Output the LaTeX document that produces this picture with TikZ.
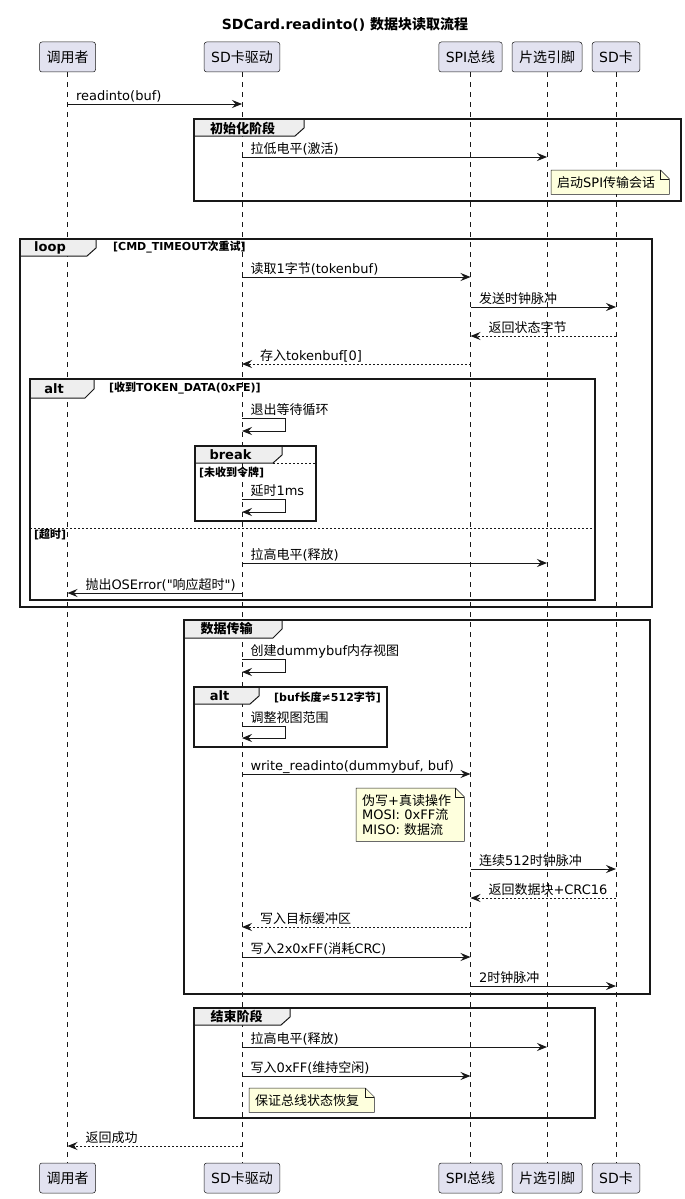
\documentclass[tikz,border=0pt]{standalone}
\usepackage{fontspec}
\setmainfont{DejaVu Sans}[Ligatures=TeXOff]
\newfontfamily\cjkfont{Noto Sans CJK SC}
\usetikzlibrary{arrows.meta}

\XeTeXinterchartokenstate=1
\chardef\cjkclass=7
\newcount\cjkcode
\cjkcode="4E00
\loop
  \XeTeXcharclass\cjkcode=\cjkclass
  \ifnum\cjkcode<"9FFF \advance\cjkcode by 1
\repeat
\XeTeXinterchartoks 0 \cjkclass = {\begingroup\cjkfont}
\XeTeXinterchartoks 4095 \cjkclass = {\begingroup\cjkfont}
\XeTeXinterchartoks \cjkclass 0 = {\endgroup}
\XeTeXinterchartoks \cjkclass 4095 = {\endgroup}

\definecolor{ink}{HTML}{181818}
\definecolor{partfill}{HTML}{E2E2F0}
\definecolor{notefill}{HTML}{FEFFDD}
\definecolor{tabfill}{HTML}{EEEEEE}

\tikzstyle{part} = [rectangle, draw=ink, fill=partfill, rounded corners=2.5pt,
    line width=0.5pt, minimum height=30pt, inner xsep=7pt, font=\fontsize{14}{16}\selectfont]
\tikzstyle{life} = [draw=ink, line width=0.5pt, dash pattern=on 5pt off 5pt]
\tikzstyle{line} = [draw=ink, line width=1pt, -{Stealth[length=10pt, width=8pt, inset=3.5pt]}]
\tikzstyle{back} = [line, dash pattern=on 2pt off 2pt]
\tikzstyle{rlbl} = [anchor=base west, inner sep=0pt, xshift=8pt, yshift=4pt, font=\fontsize{13}{15}\selectfont]
\tikzstyle{llbl} = [anchor=base west, inner sep=0pt, xshift=17.5pt, yshift=4pt, font=\fontsize{13}{15}\selectfont]
\tikzstyle{frame} = [draw=ink, line width=1.5pt]
\tikzstyle{tab} = [draw=ink, fill=tabfill, line width=1pt]
\tikzstyle{ghead} = [inner sep=0pt, font=\bfseries\fontsize{13}{15}\selectfont]
\tikzstyle{gcond} = [anchor=west, inner sep=0pt, font=\bfseries\fontsize{11}{13}\selectfont]
\tikzstyle{sep} = [draw=ink, line width=1pt, dash pattern=on 2pt off 2pt]
\tikzstyle{note} = [anchor=north west, fill=notefill, inner xsep=6pt, inner ysep=6pt,
    align=left, font=\fontsize{13}{14.5}\selectfont]
\tikzstyle{fold} = [draw=ink, line width=0.5pt]

\begin{document}
\begin{tikzpicture}[x=1pt, y=-1pt]
  \useasboundingbox (0,0) rectangle (685,1199);
  \node [font=\bfseries\fontsize{14}{16}\selectfont] (title) at (345,24) {SDCard.readinto() 数据块读取流程};

  \node [part] (cl) at (67.5,57) {调用者};
  \node [part] (drv) at (242,57) {SD卡驱动};
  \node [part] (spi) at (470.5,57) {SPI总线};
  \node [part] (cs) at (547,57) {片选引脚};
  \node [part] (card) at (616,57) {SD卡};
  \node [part] (cl2) at (67.5,1178) {调用者};
  \node [part] (drv2) at (242,1178) {SD卡驱动};
  \node [part] (spi2) at (470.5,1178) {SPI总线};
  \node [part] (cs2) at (547,1178) {片选引脚};
  \node [part] (card2) at (616,1178) {SD卡};
  \path [life] (cl) -- (cl2);
  \path [life] (drv) -- (drv2);
  \path [life] (spi) -- (spi2);
  \path [life] (cs) -- (cs2);
  \path [life] (card) -- (card2);

  \filldraw [tab] (194,119) -- (304,119) -- (304,128) -- (295,136) -- (194,136) -- cycle;
  \draw [frame] (194,119) rectangle (681,201);
  \node [ghead] (init) at (242.5,128) {初始化阶段};

  \filldraw [tab] (20,239) -- (96,239) -- (96,248) -- (87,256) -- (20,256) -- cycle;
  \draw [frame] (20,239) rectangle (652,607);
  \node [ghead] (loop) at (50,247.5) {loop};
  \node [gcond] (loopc) at (113,247.5) {[CMD\_TIMEOUT次重试]};

  \filldraw [tab] (30,379) -- (94,379) -- (94,389) -- (85,398) -- (30,398) -- cycle;
  \draw [frame] (30,379) rectangle (595,600);
  \node [ghead] (alt) at (54,388.5) {alt};
  \node [gcond] (altc) at (109,388.5) {[收到TOKEN\_DATA(0xFE)]};
  \path [sep] (30,528) -- (595,528);
  \node [gcond] (elsec) at (34,535) {[超时]};

  \filldraw [tab] (195,446) -- (282,446) -- (282,455) -- (273,463) -- (195,463) -- cycle;
  \draw [frame] (195,446) rectangle (316,521);
  \path [sep] (273,463) -- (316,463);
  \node [ghead] (brk) at (230.5,454.5) {break};
  \node [gcond] (brkc) at (199,472) {[未收到令牌]};

  \filldraw [tab] (184,620) -- (282,620) -- (282,629) -- (273,638) -- (184,638) -- cycle;
  \draw [frame] (184,620) rectangle (650,994);
  \node [ghead] (data) at (226.5,629) {数据传输};

  \filldraw [tab] (194,687) -- (259,687) -- (259,696) -- (250,704) -- (194,704) -- cycle;
  \draw [frame] (194,687) rectangle (387,747);
  \node [ghead] (alt2) at (219.5,696) {alt};
  \node [gcond] (alt2c) at (274,697) {[buf长度≠512字节]};

  \filldraw [tab] (194,1008) -- (290,1008) -- (290,1017) -- (281,1025) -- (194,1025) -- cycle;
  \draw [frame] (194,1008) rectangle (595,1118);
  \node [ghead] (fin) at (236.5,1016.5) {结束阶段};

  \path [line] (cl |- 0,104) -- (drv |- 0,104) node [pos=0, rlbl] (m1) {readinto(buf)};
  \path [line] (drv |- 0,157) -- (cs |- 0,157) node [pos=0, rlbl] (m2) {拉低电平(激活)};
  \path [line] (drv |- 0,277) -- (spi |- 0,277) node [pos=0, rlbl] (m3) {读取1字节(tokenbuf)};
  \path [line] (spi |- 0,307) -- (card |- 0,307) node [pos=0, rlbl] (m4) {发送时钟脉冲};
  \path [back] (card |- 0,336) -- (spi |- 0,336) node [pos=1, llbl] (m5) {返回状态字节};
  \path [back] (spi |- 0,364) -- (drv |- 0,364) node [pos=1, llbl] (m6) {存入tokenbuf[0]};
  \path [line] (drv |- 0,418) node [rlbl] (m7) {退出等待循环} -- ++(43,0) -- ++(0,13) -- (drv |- 0,431);
  \path [line] (drv |- 0,499) node [rlbl] (m8) {延时1ms} -- ++(43,0) -- ++(0,13) -- (drv |- 0,512);
  \path [line] (drv |- 0,563) -- (cs |- 0,563) node [pos=0, rlbl] (m9) {拉高电平(释放)};
  \path [line] (drv |- 0,593) -- (cl |- 0,593) node [pos=1, llbl] (m10) {抛出OSError("响应超时")};
  \path [line] (drv |- 0,659) node [rlbl] (m11) {创建dummybuf内存视图} -- ++(43,0) -- ++(0,13) -- (drv |- 0,672);
  \path [line] (drv |- 0,726) node [rlbl] (m12) {调整视图范围} -- ++(43,0) -- ++(0,12) -- (drv |- 0,738);
  \path [line] (drv |- 0,774) -- (spi |- 0,774) node [pos=0, rlbl] (m13) {write\_readinto(dummybuf, buf)};
  \path [line] (spi |- 0,869) -- (card |- 0,869) node [pos=0, rlbl] (m14) {连续512时钟脉冲};
  \path [back] (card |- 0,898) -- (spi |- 0,898) node [pos=1, llbl] (m15) {返回数据块+CRC16};
  \path [back] (spi |- 0,927) -- (drv |- 0,927) node [pos=1, llbl] (m16) {写入目标缓冲区};
  \path [line] (drv |- 0,957) -- (spi |- 0,957) node [pos=0, rlbl] (m17) {写入2x0xFF(消耗CRC)};
  \path [line] (spi |- 0,986) -- (card |- 0,986) node [pos=0, rlbl] (m18) {2时钟脉冲};
  \path [line] (drv |- 0,1047) -- (cs |- 0,1047) node [pos=0, rlbl] (m19) {拉高电平(释放)};
  \path [line] (drv |- 0,1076) -- (spi |- 0,1076) node [pos=0, rlbl] (m20) {写入0xFF(维持空闲)};
  \path [back] (drv |- 0,1146) -- (cl |- 0,1146) node [pos=1, llbl] (m21) {返回成功};

  \node [note, text width=106pt] (n1) at (551,170) {启动SPI传输会话};
  \node [note, text width=96pt] (n2) at (356,788) {伪写+真读操作\\MOSI: 0xFF流\\MISO: 数据流};
  \node [note, text width=113pt] (n3) at (249,1088) {保证总线状态恢复};
  \fill [white] ([xshift=-9pt]n1.north east) -- (n1.north east) -- ([yshift=-9pt]n1.north east) -- cycle;
  \fill [white] ([xshift=-9pt]n2.north east) -- (n2.north east) -- ([yshift=-9pt]n2.north east) -- cycle;
  \fill [white] ([xshift=-9pt]n3.north east) -- (n3.north east) -- ([yshift=-9pt]n3.north east) -- cycle;
  \path [fold] (n1.north west) -- ([xshift=-9pt]n1.north east) -- ([yshift=-9pt]n1.north east) -- (n1.south east) -- (n1.south west) -- cycle;
  \path [fold] ([xshift=-9pt]n1.north east) |- ([yshift=-9pt]n1.north east);
  \path [fold] (n2.north west) -- ([xshift=-9pt]n2.north east) -- ([yshift=-9pt]n2.north east) -- (n2.south east) -- (n2.south west) -- cycle;
  \path [fold] ([xshift=-9pt]n2.north east) |- ([yshift=-9pt]n2.north east);
  \path [fold] (n3.north west) -- ([xshift=-9pt]n3.north east) -- ([yshift=-9pt]n3.north east) -- (n3.south east) -- (n3.south west) -- cycle;
  \path [fold] ([xshift=-9pt]n3.north east) |- ([yshift=-9pt]n3.north east);
\end{tikzpicture}
\end{document}
